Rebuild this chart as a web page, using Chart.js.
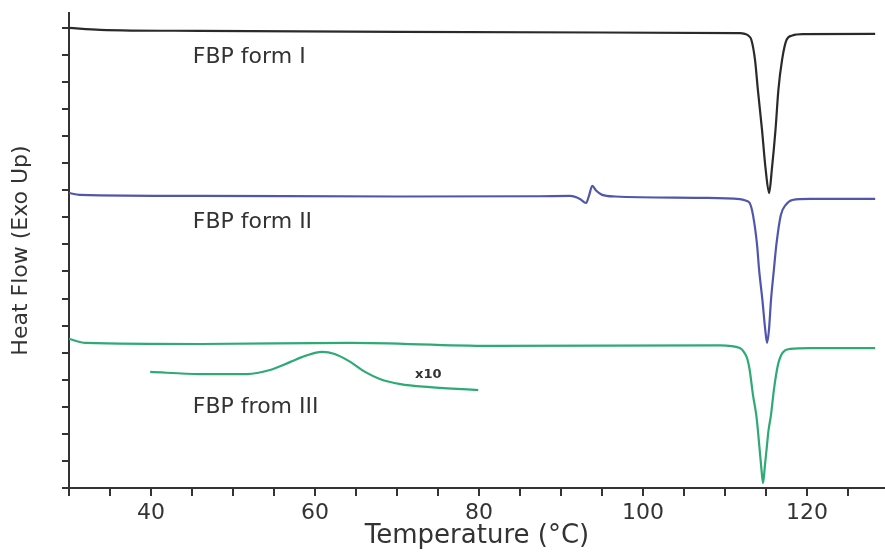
<!DOCTYPE html>
<html>
<head>
<meta charset="utf-8">
<script src="https://cdn.jsdelivr.net/npm/chart.js@4.4.0/dist/chart.umd.min.js"></script>
<style>
  html, body { margin: 0; padding: 0; background: #fff; }
  #wrap { width: 885px; height: 552px; }
</style>
</head>
<body>
<div id="wrap"><canvas id="dsc"></canvas></div>
<script>
// DSC traces, temperature (°C) vs heat flow (arbitrary, stacked offsets)
const formIT = [30, 33.8, 46, 70.4, 94.8, 111.8, 112.4, 112.9, 113.2, 113.65, 114.0, 114.5, 114.95, 115.37, 115.7, 116.15, 116.5, 116.95, 117.5, 118.2, 119.5, 128.3];
const formIY = [17.0, 16.93, 16.89, 16.85, 16.83, 16.81, 16.78, 16.7, 16.56, 15.82, 14.71, 13.24, 11.76, 10.9, 11.76, 13.24, 14.71, 15.82, 16.56, 16.72, 16.77, 16.78];

const formIIT = [30, 31.3, 46, 70.4, 87.4, 91.1, 92.3, 93.05, 93.4, 93.8, 94.3, 95.0, 96.6, 107, 111.8, 112.5, 113.0, 113.4, 113.9, 114.15, 114.55, 114.9, 115.12, 115.35, 115.6, 115.95, 116.25, 116.8, 117.4, 118.2, 120.4, 128.3];
const formIIY = [10.9, 10.83, 10.79, 10.77, 10.78, 10.79, 10.68, 10.53, 10.79, 11.16, 10.98, 10.83, 10.77, 10.72, 10.67, 10.62, 10.53, 10.09, 8.98, 8.06, 6.95, 5.84, 5.36, 5.84, 6.95, 8.06, 8.98, 10.09, 10.46, 10.64, 10.68, 10.68];

const formIIIT = [30, 32, 46, 64.3, 81.3, 109.4, 111.8, 112.5, 112.75, 113.0, 113.4, 113.8, 114.0, 114.4, 114.63, 114.85, 115.05, 115.3, 115.6, 115.95, 116.45, 117.0, 117.95, 120.4, 128.3];
const formIIIY = [5.51, 5.36, 5.32, 5.36, 5.25, 5.27, 5.17, 4.92, 4.73, 4.36, 3.44, 2.7, 2.14, 0.81, 0.18, 0.81, 1.4, 2.14, 2.7, 3.62, 4.55, 4.99, 5.14, 5.17, 5.17];

// x10 magnified inset of form III
const insetT = [39.9, 46, 51.7, 54.5, 57, 58.8, 60.85, 62.4, 64.3, 66.1, 67.9, 70.4, 74, 79.9];
const insetY = [4.29, 4.21, 4.21, 4.36, 4.66, 4.88, 5.03, 4.95, 4.66, 4.29, 4.03, 3.84, 3.73, 3.62];

// annotations
const labelTexts = ["FBP form I", "FBP form II", "FBP from III"];
const labelT = [45.1, 45.1, 45.1];
const labelY = [15.93, 9.83, 2.99];
const magText = "x10";
const magT = 72.2;
const magY = 4.18;

const xTicksMajor = [40, 60, 80, 100, 120];

function pts(xs, ys) {
    return xs.map((x, i) => ({ x: x, y: ys[i] }));
}

const textPlugin = {
    id: "curveLabels",
    afterDatasetsDraw(chart) {
        const ctx = chart.ctx;
        const xs = chart.scales.x;
        const ys = chart.scales.y;
        ctx.save();
        ctx.fillStyle = "#333";
        ctx.textBaseline = "middle";
        ctx.textAlign = "left";
        ctx.font = "22px 'DejaVu Sans'";
        labelTexts.forEach((t, i) => {
            ctx.fillText(t, xs.getPixelForValue(labelT[i]), ys.getPixelForValue(labelY[i]));
        });
        ctx.font = "bold 13px 'DejaVu Sans'";
        ctx.fillText(magText, xs.getPixelForValue(magT), ys.getPixelForValue(magY));
        ctx.restore();
    }
};

const lineOpts = { pointRadius: 0, borderWidth: 2.2, fill: false, cubicInterpolationMode: "monotone" };

new Chart(document.getElementById("dsc"), {
    type: "line",
    data: {
        datasets: [
            { label: "FBP form I", data: pts(formIT, formIY), borderColor: "#2a2a2a", ...lineOpts },
            { label: "FBP form II", data: pts(formIIT, formIIY), borderColor: "#5055ad", ...lineOpts },
            { label: "FBP form III", data: pts(formIIIT, formIIIY), borderColor: "#2eaa76", ...lineOpts },
            { label: "x10", data: pts(insetT, insetY), borderColor: "#2eaa76", ...lineOpts },
        ],
    },
    options: {
        responsive: true,
        maintainAspectRatio: false,
        animation: false,
        layout: { padding: { top: 13, right: 0, left: 0, bottom: 0 } },
        plugins: {
            legend: { display: false },
            tooltip: { enabled: false },
        },
        scales: {
            x: {
                type: "linear",
                min: 30,
                max: 129.5,
                afterFit: (s) => { s.height = 64; },
                border: { display: true, color: "#333", width: 2 },
                grid: { drawOnChartArea: false, drawTicks: true, tickLength: 8, color: "#333", lineWidth: 2 },
                ticks: {
                    stepSize: 5,
                    includeBounds: false,
                    autoSkip: false,
                    maxRotation: 0,
                    padding: 4,
                    color: "#333",
                    font: { family: "'DejaVu Sans'", size: 22 },
                    callback: (v) => (xTicksMajor.includes(v) ? String(v) : ""),
                },
                title: {
                    display: true,
                    text: "Temperature (°C)",
                    color: "#333",
                    font: { family: "'DejaVu Sans'", size: 26 },
                    padding: { top: 0, bottom: 0 },
                },
            },
            y: {
                type: "linear",
                min: 0,
                max: 17.55,
                afterFit: (s) => { s.width = 69; },
                border: { display: true, color: "#333", width: 2 },
                grid: { drawOnChartArea: false, drawTicks: true, tickLength: 7, color: "#333", lineWidth: 2 },
                ticks: {
                    stepSize: 1,
                    includeBounds: false,
                    autoSkip: false,
                    padding: 0,
                    callback: () => "",
                },
                title: {
                    display: true,
                    text: "Heat Flow (Exo Up)",
                    color: "#333",
                    font: { family: "'DejaVu Sans'", size: 22 },
                    padding: { top: 8, bottom: 0 },
                },
            },
        },
    },
    plugins: [textPlugin],
});
</script>
</body>
</html>
